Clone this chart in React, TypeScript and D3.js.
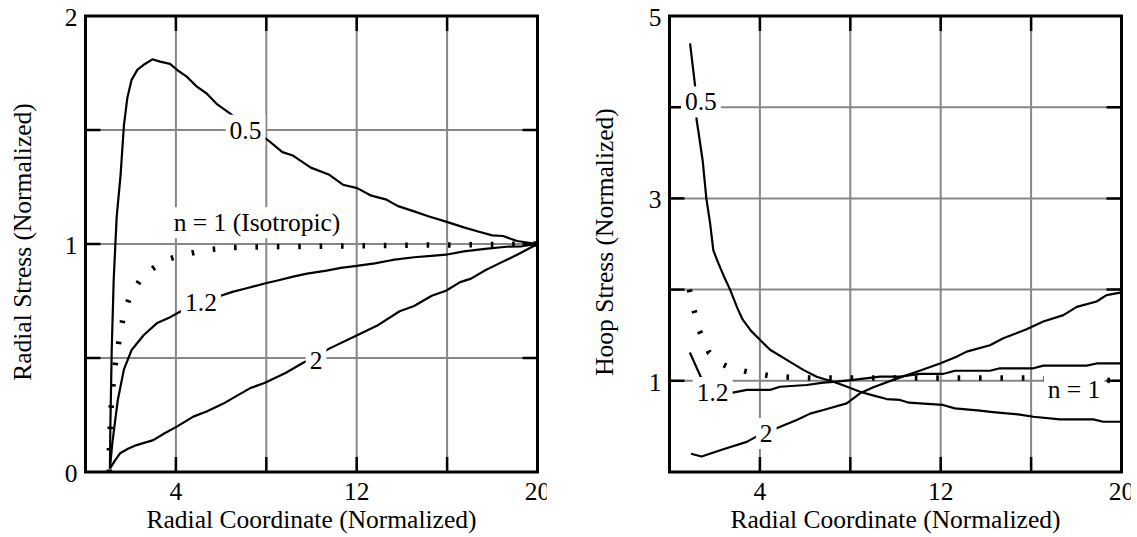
import React, { useEffect, useRef } from "react";
import * as d3 from "d3";

// ---------- data ----------
const xGrid = [4, 8, 12, 16];
const xTickLabels = [4, 12, 20];
const leftYGrid = [0.5, 1, 1.5];
const leftYTickLabels = [0, 1, 2];
const rightYGrid = [1, 2, 3, 4];
const rightYTickLabels = [1, 3, 5];

// Radial stress, n = 0.5
const radial05: [number, number][] = [
  [1.08, 0.015], [1.1, 0.2], [1.16, 0.535], [1.25, 0.85], [1.38, 1.12], [1.55, 1.3], [1.7, 1.52], [1.85, 1.64],
  [2.04, 1.72], [2.3, 1.765], [2.56, 1.785], [2.96, 1.81], [3.3, 1.8], [3.74, 1.79], [4.1, 1.76], [4.48, 1.734],
  [4.93, 1.69], [5.36, 1.66], [5.8, 1.615], [6.39, 1.573], [6.8, 1.54], [7.5, 1.49], [8.08, 1.455], [8.71, 1.403],
  [9.18, 1.388], [9.97, 1.335], [10.76, 1.305], [11.39, 1.26], [12.02, 1.245], [12.65, 1.212], [13.28, 1.196],
  [13.83, 1.166], [14.54, 1.143], [15.17, 1.122], [15.95, 1.098], [16.74, 1.073], [17.37, 1.055], [18.0, 1.038],
  [18.47, 1.035], [19.1, 1.013], [20, 1.0],
];
// Radial stress, n = 1 (isotropic)
const radial1: [number, number][] = [
  [1.05, 0.0], [1.06, 0.12], [1.1, 0.21], [1.15, 0.31], [1.24, 0.405], [1.34, 0.49], [1.5, 0.585], [1.67, 0.68],
  [1.97, 0.773], [2.56, 0.864], [3.52, 0.93], [4.45, 0.955], [5.39, 0.975], [6.35, 0.984], [8, 0.988], [12, 0.992],
  [16, 0.996], [20, 1.0],
];
// Radial stress, n = 1.2
const radial12: [number, number][] = [
  [1.08, 0.015], [1.18, 0.12], [1.28, 0.2], [1.43, 0.316], [1.7, 0.45], [2.04, 0.535], [2.57, 0.6], [3.15, 0.652],
  [3.67, 0.675], [4.18, 0.703], [4.6, 0.72], [5.3, 0.75], [5.95, 0.772], [6.5, 0.79], [7.13, 0.806], [7.97, 0.828],
  [8.5, 0.84], [9.19, 0.857], [9.8, 0.87], [10.67, 0.883], [11.3, 0.895], [12.0, 0.904], [12.8, 0.915], [13.59, 0.93],
  [14.54, 0.942], [15.3, 0.948], [15.95, 0.953], [16.74, 0.968], [17.68, 0.979], [18.63, 0.988], [19.3, 0.99], [20, 1.0],
];
// Radial stress, n = 2
const radial2: [number, number][] = [
  [1.08, 0.015], [1.3, 0.05], [1.53, 0.082], [1.9, 0.103], [2.26, 0.118], [3.0, 0.14], [3.5, 0.17], [4.04, 0.199],
  [4.77, 0.243], [5.36, 0.265], [6.1, 0.3], [6.5, 0.323], [7.29, 0.368], [7.92, 0.39], [8.87, 0.435], [9.65, 0.48],
  [10.2, 0.505], [10.76, 0.54], [12.02, 0.6], [12.96, 0.645], [13.9, 0.705], [14.54, 0.728], [15.32, 0.773],
  [15.95, 0.795], [16.58, 0.833], [17.06, 0.848], [17.69, 0.885], [18.31, 0.915], [19.1, 0.953], [20, 1.0],
];

// Hoop stress, n = 0.5
const hoop05: [number, number][] = [
  [0.91, 4.7], [1.13, 4.24], [1.2, 3.86], [1.27, 3.75], [1.47, 3.41], [1.63, 3.0], [1.79, 2.74], [1.94, 2.43],
  [2.16, 2.29], [2.4, 2.15], [2.68, 2.0], [3.0, 1.8], [3.24, 1.67], [3.6, 1.55], [4.0, 1.45], [4.45, 1.34],
  [5.19, 1.23], [5.92, 1.12], [6.51, 1.045], [7.25, 0.99], [7.8, 0.94], [8.43, 0.88], [9.0, 0.84], [9.61, 0.8],
  [10.2, 0.79], [10.6, 0.76], [11.08, 0.753], [12.1, 0.735], [12.63, 0.698], [13.74, 0.672], [14.2, 0.66],
  [14.92, 0.643], [15.5, 0.63], [16.1, 0.606], [17.28, 0.577], [18.75, 0.577], [19.19, 0.551], [20, 0.551],
];
// Hoop stress, n = 1 (isotropic)
const hoop1: [number, number][] = [
  [0.88, 2.0], [1.08, 1.78], [1.32, 1.55], [1.75, 1.31], [2.2, 1.2], [2.68, 1.14], [3.6, 1.09], [4.57, 1.05],
  [5.52, 1.035], [6.47, 1.03], [8, 1.03], [12, 1.03], [16, 1.03], [20, 1.0],
];
// Hoop stress, n = 1.2
const hoop12: [number, number][] = [
  [0.9, 1.31], [1.38, 1.045], [1.7, 0.95], [2.2, 0.89], [2.8, 0.87], [3.42, 0.9], [4.45, 0.9], [4.89, 0.935],
  [6.07, 0.954], [6.81, 0.98], [7.4, 0.99], [8.13, 1.01], [9.31, 1.045], [10.2, 1.045], [11.08, 1.075], [12.1, 1.075],
  [12.63, 1.11], [14.18, 1.11], [14.62, 1.137], [16.1, 1.137], [16.54, 1.166], [18.46, 1.166], [18.9, 1.19], [20, 1.19],
];
// Hoop stress, n = 2
const hoop2: [number, number][] = [
  [0.95, 0.2], [1.42, 0.17], [2.38, 0.25], [3.42, 0.33], [3.78, 0.38], [4.74, 0.48], [5.63, 0.57], [6.22, 0.64],
  [6.81, 0.68], [7.84, 0.753], [8.43, 0.863], [9.02, 0.93], [9.9, 1.01], [10.94, 1.1], [11.97, 1.19], [12.7, 1.264],
  [13.15, 1.32], [14.18, 1.39], [14.77, 1.466], [15.8, 1.565], [16.54, 1.65], [17.43, 1.72], [18.02, 1.81],
  [18.9, 1.87], [19.34, 1.94], [20, 1.97],
];

// curve labels [text, x, y] in data units (centre of text)
const leftLabels: [string, number, number][] = [
  ["0.5", 7.08, 1.5],
  ["n = 1 (Isotropic)", 7.59, 1.094],
  ["1.2", 5.11, 0.744],
  ["2", 10.2, 0.491],
];
const rightLabels: [string, number, number][] = [
  ["0.5", 1.39, 4.06],
  ["1.2", 1.91, 0.874],
  ["2", 4.28, 0.424],
  ["n = 1", 17.9, 0.91],
];

const FONT = "'Liberation Serif', 'Times New Roman', Times, serif";
const FS = 25.5;

type Panel = {
  x0: number; x1: number; y0: number; y1: number;
  yDomain: [number, number];
  yGrid: number[]; yLabels: number[];
  solid: [number, number][][]; dotted: [number, number][];
  labels: [string, number, number][];
  yTitle: string; yTitleX: number; clipLeft: number;
};

export default function App() {
  const ref = useRef<SVGSVGElement>(null);
  useEffect(() => {
    const svg = d3.select(ref.current!);
    svg.selectAll("*").remove();

    const panels: Panel[] = [
      {
        x0: 85.5, x1: 537.5, y0: 16, y1: 472, yDomain: [0, 2], yGrid: leftYGrid, yLabels: leftYTickLabels,
        solid: [radial05, radial12, radial2], dotted: radial1, labels: leftLabels,
        yTitle: "Radial Stress (Normalized)", yTitleX: 31, clipLeft: 0,
      },
      {
        x0: 669.5, x1: 1121.5, y0: 16, y1: 472, yDomain: [0, 5], yGrid: rightYGrid, yLabels: rightYTickLabels,
        solid: [hoop05, hoop12, hoop2], dotted: hoop1, labels: rightLabels,
        yTitle: "Hoop Stress (Normalized)", yTitleX: 613, clipLeft: 560,
      },
    ];

    const defs = svg.append("defs");

    panels.forEach((p, i) => {
      const clipId = `clip-${i}`;
      const clipRight = p.x1 + 9.2;
      defs.append("clipPath").attr("id", clipId).append("rect")
        .attr("x", p.clipLeft).attr("y", 0)
        .attr("width", clipRight - p.clipLeft).attr("height", 537);

      const g = svg.append("g").attr("clip-path", `url(#${clipId})`)
        .style("font-family", FONT).style("font-size", `${FS}px`);
      const x = d3.scaleLinear().domain([0, 20]).range([p.x0, p.x1]);
      const y = d3.scaleLinear().domain(p.yDomain).range([p.y1, p.y0]);
      const TL = 15;

      // grid
      g.selectAll(".gx").data(xGrid).enter().append("line")
        .attr("x1", (d) => x(d)).attr("x2", (d) => x(d)).attr("y1", p.y0).attr("y2", p.y1)
        .attr("stroke", "#878787").attr("stroke-width", 2);
      g.selectAll(".gy").data(p.yGrid).enter().append("line")
        .attr("y1", (d) => y(d)).attr("y2", (d) => y(d)).attr("x1", p.x0).attr("x2", p.x1)
        .attr("stroke", "#878787").attr("stroke-width", 2);

      // ticks (inside, all sides)
      xGrid.forEach((d) => {
        g.append("line").attr("x1", x(d)).attr("x2", x(d)).attr("y1", p.y0).attr("y2", p.y0 + TL)
          .attr("stroke", "#000").attr("stroke-width", 2.5);
        g.append("line").attr("x1", x(d)).attr("x2", x(d)).attr("y1", p.y1).attr("y2", p.y1 - TL)
          .attr("stroke", "#000").attr("stroke-width", 2.5);
      });
      p.yGrid.forEach((d) => {
        g.append("line").attr("y1", y(d)).attr("y2", y(d)).attr("x1", p.x0).attr("x2", p.x0 + TL)
          .attr("stroke", "#000").attr("stroke-width", 2.5);
        g.append("line").attr("y1", y(d)).attr("y2", y(d)).attr("x1", p.x1).attr("x2", p.x1 - TL)
          .attr("stroke", "#000").attr("stroke-width", 2.5);
      });

      const line = d3.line<[number, number]>().x((d) => x(d[0])).y((d) => y(d[1])).curve(d3.curveLinear);

      // solid curves
      p.solid.forEach((s) => {
        g.append("path").attr("d", line(s)!).attr("fill", "none").attr("stroke", "#000")
          .attr("stroke-width", 2.2).attr("stroke-linejoin", "round");
      });
      // dotted isotropic curve
      g.append("path").attr("d", line(p.dotted)!).attr("fill", "none").attr("stroke", "#000")
        .attr("stroke-width", 5.5).attr("stroke-dasharray", "2.6 18.8");

      // curve labels with white boxes
      p.labels.forEach(([t, lx, ly]) => {
        const lg = g.append("g");
        const rect = lg.append("rect").attr("fill", "#fff");
        const txt = lg.append("text").text(t)
          .attr("x", x(lx)).attr("y", y(ly) + FS * 0.34)
          .attr("text-anchor", "middle").attr("fill", "#000");
        const bb = (txt.node() as SVGTextElement).getBBox();
        rect.attr("x", bb.x - 4).attr("y", bb.y - 1).attr("width", bb.width + 8).attr("height", bb.height + 2);
      });

      // frame
      g.append("rect").attr("x", p.x0).attr("y", p.y0).attr("width", p.x1 - p.x0).attr("height", p.y1 - p.y0)
        .attr("fill", "none").attr("stroke", "#000").attr("stroke-width", 3);

      // tick labels
      g.selectAll(".xl").data(xTickLabels).enter().append("text")
        .attr("x", (d) => x(d)).attr("y", p.y1 + 28).attr("text-anchor", "middle")
        .text((d) => String(d));
      g.selectAll(".yl").data(p.yLabels).enter().append("text")
        .attr("x", p.x0 - 8).attr("y", (d) => y(d) + 10).attr("text-anchor", "end")
        .text((d) => String(d));

      // titles
      g.append("text").attr("x", (p.x0 + p.x1) / 2).attr("y", 528).attr("text-anchor", "middle")
        .text("Radial Coordinate (Normalized)");
      g.append("text").attr("transform", `translate(${p.yTitleX},242) rotate(-90)`).attr("text-anchor", "middle")
        .text(p.yTitle);
    });
  }, []);

  return (
    <svg ref={ref} width={1137} height={537}
      style={{ position: "absolute", left: 0, top: 0, background: "#fff", display: "block" }} />
  );
}
